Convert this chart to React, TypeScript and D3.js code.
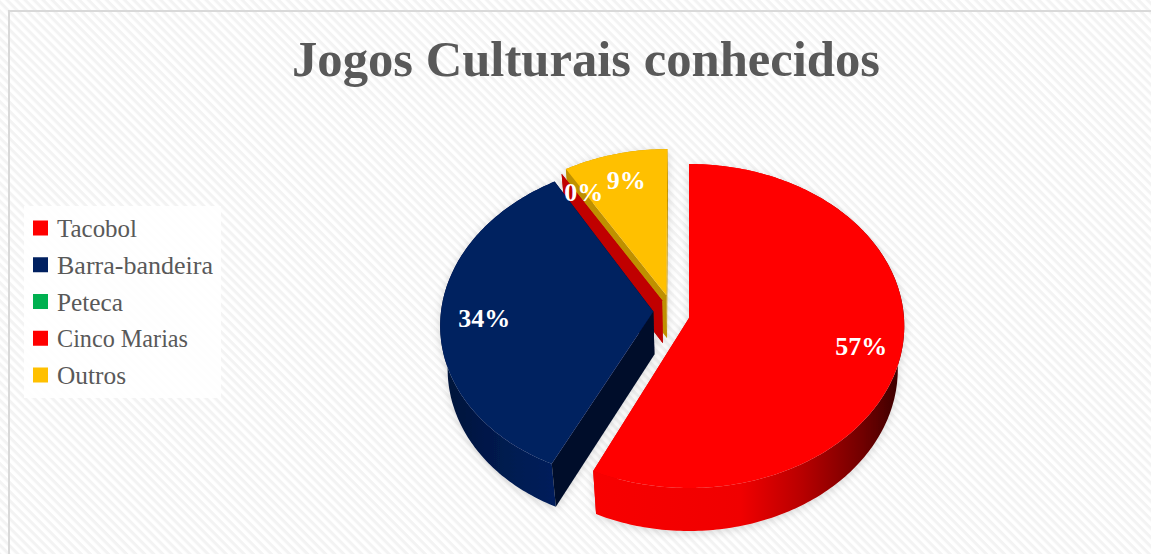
import React from 'react';
import * as d3 from 'd3';

const categories = ['Tacobol', 'Barra-bandeira', 'Peteca', 'Cinco Marias', 'Outros'];
const shares = [57, 34.4, 0, 0, 8.6];
const colors = ['#ff0000', '#002060', '#00b050', '#ff0000', '#ffc000'];
const cutColors = ['#e00000', '#000e2a', '#007a38', '#c00000', '#bf9000'];
const titleText = 'Jogos Culturais conhecidos';

const W = 1151;
const H = 554;
const cx = 689;
const cy = 318;
const rx = 215;
const ry = 161.6;
const depth = 43;
const floorScale = 0.97;

// Per-wedge view settings: pull out of the pie in disc units, radius,
// perspective strength and a small shear.
const pullU = [0, -0.167, -0.126, -0.126, -0.106];
const pullV = [0, 0.04, 0.111, 0.111, 0.142];
const radii = [1, 0.99, 0.96, 0.96, 0.96];
const persp = [0.0494, 0.06, 0.0494, 0.0494, 0.0494];
const shear = [0, 0.02, 0, 0, 0];
// Nudges for the percentage labels and widths of the legend texts.
const labelDx = [3, 3, 0, 6, 3];
const labelDy = [0, 0, 0, -2, 3];
const legendWidths = [80, 156, 66, 131, 69];
// Painted back to front; the empty Peteca wedge is left out.
const paintOrder = [4, 3, 1, 0];

type Pt = [number, number];

// Perspective view of a point on the tilted disc.
const project = (i: number, u: number, v: number): Pt => {
  const s = 1 / (1 + persp[i] * v);
  return [cx + (u + shear[i] * v) * rx * s, cy - v * ry * s];
};
const onWedge = (i: number, theta: number, r: number): Pt =>
  project(i, pullU[i] + r * Math.sin(theta), pullV[i] + r * Math.cos(theta));
const lower = ([x, y]: Pt): Pt => [cx + (x - cx) * floorScale, y + depth];

const line = d3.line<Pt>();
const arcs = d3.pie<number>().sort(null)(shares);
const percent = (v: number) => `${Math.round(v)}%`;

const arcPoints = (i: number, a: number, b: number): Pt[] => {
  const n = Math.max(2, Math.ceil(Math.abs(b - a) * 60));
  return d3.range(n + 1).map((k) => onWedge(i, a + ((b - a) * k) / n, radii[i]));
};

const legendY = d3.scalePoint<string>().domain(categories).range([228, 375]);

export default function App() {
  return (
    <svg width={W} height={H} style={{ position: 'absolute', left: 0, top: 0 }}>
      <defs>
        <pattern id="hatch" width="6.4" height="6.4" patternUnits="userSpaceOnUse" patternTransform="rotate(45)">
          <rect width="6.4" height="6.4" fill="#ffffff" />
          <rect width="6.4" height="3" fill="#f3f3f3" />
        </pattern>
        <linearGradient id="wallRed" gradientUnits="userSpaceOnUse" x1="594" x2="900" y1="0" y2="0">
          <stop offset="0" stopColor="#f80000" />
          <stop offset="0.48" stopColor="#f00000" />
          <stop offset="0.68" stopColor="#b80000" />
          <stop offset="0.88" stopColor="#700000" />
          <stop offset="1" stopColor="#3a0000" />
        </linearGradient>
        <linearGradient id="wallNavy" gradientUnits="userSpaceOnUse" x1="445" x2="557" y1="0" y2="0">
          <stop offset="0" stopColor="#00133a" />
          <stop offset="0.5" stopColor="#001a4e" />
          <stop offset="1" stopColor="#001f5c" />
        </linearGradient>
        <filter id="soft" x="-10%" y="-10%" width="120%" height="120%">
          <feDropShadow dx="0" dy="2" stdDeviation="4" floodColor="#000" floodOpacity="0.15" />
        </filter>
      </defs>

      <rect width={W} height={H} fill="url(#hatch)" />
      <path d={`M9 ${H}V11H${W}`} fill="none" stroke="#d9d9d9" strokeWidth="2" />

      <text
        x={292}
        y={76}
        fontFamily="'Liberation Serif', serif"
        fontWeight="700"
        fontSize="50"
        fill="#595959"
        textLength={588}
        lengthAdjust="spacingAndGlyphs"
      >
        {titleText}
      </text>

      <rect x={24} y={206} width={197} height={192} fill="#ffffff" fillOpacity="0.85" />
      {categories.map((name, i) => (
        <g key={name}>
          <rect x={33} y={legendY(name)! - 7.5} width={15} height={15} fill={colors[i]} />
          <text
            x={57}
            y={legendY(name)! + 9}
            fontFamily="'Liberation Serif', serif"
            fontSize="25"
            fill="#595959"
            textLength={legendWidths[i]}
            lengthAdjust="spacingAndGlyphs"
          >
            {name}
          </text>
        </g>
      ))}

      <g filter="url(#soft)">
        {paintOrder.map((i) => {
          const { startAngle: a, endAngle: b } = arcs[i];
          const apex = project(i, pullU[i], pullV[i]);
          const rim = arcPoints(i, a, b);
          const wall = [...rim, ...rim.map(lower).reverse()];
          const cutA: Pt[] = [apex, onWedge(i, a, radii[i]), lower(onWedge(i, a, radii[i])), lower(apex)];
          const cutB: Pt[] = [apex, onWedge(i, b, radii[i]), lower(onWedge(i, b, radii[i])), lower(apex)];
          const wallFill = i === 0 ? 'url(#wallRed)' : i === 1 ? 'url(#wallNavy)' : cutColors[i];
          return (
            <g key={categories[i]}>
              <path d={line(cutB)! + 'Z'} fill={cutColors[i]} />
              <path d={line(wall)! + 'Z'} fill={wallFill} />
              <path d={line(cutA)! + 'Z'} fill={cutColors[i]} />
              <path d={line([apex, ...rim])! + 'Z'} fill={colors[i]} />
            </g>
          );
        })}
      </g>

      {paintOrder.map((i) => {
        const mid = (arcs[i].startAngle + arcs[i].endAngle) / 2;
        const [x, y] = onWedge(i, mid, 0.8);
        return (
          <text
            key={categories[i]}
            x={x + labelDx[i]}
            y={y + 9 + labelDy[i]}
            textAnchor="middle"
            fontFamily="'Liberation Serif', serif"
            fontWeight="700"
            fontSize="26"
            fill="#ffffff"
          >
            {percent(shares[i])}
          </text>
        );
      })}
    </svg>
  );
}
